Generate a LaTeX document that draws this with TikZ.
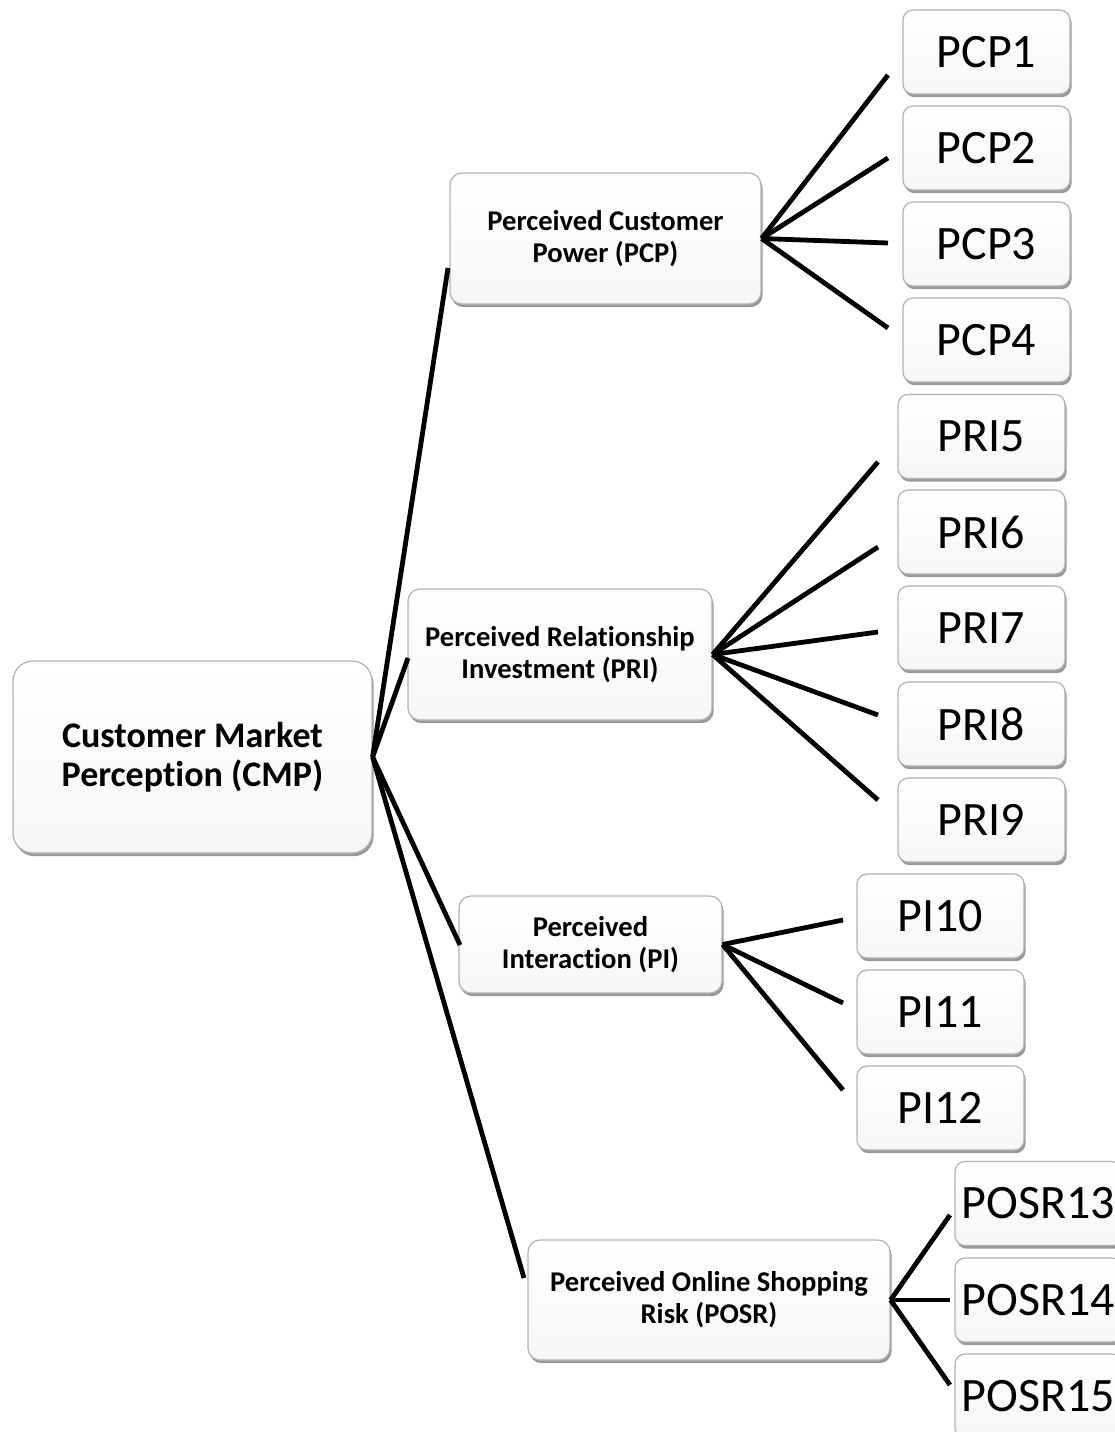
\documentclass[tikz,border=0pt]{standalone}
\usepackage{fontspec}
\setmainfont{Carlito}[Ligatures=NoCommon]
\usetikzlibrary{shadows}
\begin{document}
\begin{tikzpicture}[x=0.5pt,y=-0.5pt,
  box/.style={draw=gray!60, line width=0.6pt, top color=white, bottom color=gray!7,
    drop shadow={shadow xshift=0.8pt, shadow yshift=-1.6pt, fill=gray!80, opacity=1},
    inner sep=0pt, align=center},
  rootbox/.style={box, rounded corners=10pt, minimum width=179.5pt, minimum height=96pt,
    font=\fontsize{18}{19.5}\selectfont\bfseries},
  midbox/.style={box, rounded corners=6pt, font=\fontsize{14.3}{16}\selectfont\bfseries},
  leafbox/.style={box, rounded corners=5pt, minimum width=83.5pt, minimum height=42pt,
    font=\fontsize{24}{28}\selectfont},
  link/.style={line width=2.4pt, black}]
\useasboundingbox (0,0) rectangle (1115,1432);
\clip (0,0) rectangle (1115,1432);

% root and second level
\node[rootbox] (cmp) at (192.5,757) {Customer Market\\Perception (CMP)};
\node[midbox, minimum width=155.5pt, minimum height=65.5pt] (pcp) at (605.5,238.5) {Perceived Customer\\Power (PCP)};
\node[midbox, minimum width=152pt, minimum height=65.5pt] (pri) at (560,654.5) {Perceived Relationship\\Investment (PRI)};
\node[midbox, minimum width=131.5pt, minimum height=48.5pt] (pi) at (590.5,944.5) {Perceived\\Interaction (PI)};
\node[midbox, minimum width=181pt, minimum height=60pt] (posr) at (709,1300) {Perceived Online Shopping\\Risk (POSR)};

% items
\node[leafbox] (pcp1) at (986.5,52) {PCP1};
\node[leafbox] (pcp2) at (986.5,148) {PCP2};
\node[leafbox] (pcp3) at (986.5,244) {PCP3};
\node[leafbox] (pcp4) at (986.5,340) {PCP4};
\node[leafbox] (pri5) at (981.5,436.5) {PRI5};
\node[leafbox] (pri6) at (981.5,532) {PRI6};
\node[leafbox] (pri7) at (981.5,628) {PRI7};
\node[leafbox] (pri8) at (981.5,724) {PRI8};
\node[leafbox] (pri9) at (981.5,820) {PRI9};
\node[leafbox] (pi10) at (940.5,916) {PI10};
\node[leafbox] (pi11) at (940.5,1012) {PI11};
\node[leafbox] (pi12) at (940.5,1108) {PI12};
\node[leafbox] (posr13) at (1038.5,1203.5) {POSR13};
\node[leafbox] (posr14) at (1038.5,1300) {POSR14};
\node[leafbox] (posr15) at (1038.5,1396) {POSR15};

% free ends of the connectors, just short of each box
\coordinate (e-pcp) at (448,268);
\coordinate (e-pri) at (408,658);
\coordinate (e-pi) at (460,945);
\coordinate (e-posr) at (524,1278);
\coordinate (e-pcp1) at (888,75);
\coordinate (e-pcp2) at (888,158);
\coordinate (e-pcp3) at (888,243);
\coordinate (e-pcp4) at (888,328);
\coordinate (e-pri5) at (878,462);
\coordinate (e-pri6) at (878,547);
\coordinate (e-pri7) at (878,632);
\coordinate (e-pri8) at (878,715);
\coordinate (e-pri9) at (878,800);
\coordinate (e-pi10) at (843,920);
\coordinate (e-pi11) at (843,1003);
\coordinate (e-pi12) at (843,1090);
\coordinate (e-posr13) at (950,1215);
\coordinate (e-posr14) at (950,1300);
\coordinate (e-posr15) at (950,1385);

% connectors
\foreach \t in {pcp,pri,pi,posr} \draw[link] (cmp.east) -- (e-\t);
\foreach \t in {1,2,3,4} \draw[link] (pcp.east) -- (e-pcp\t);
\foreach \t in {5,6,7,8,9} \draw[link] (pri.east) -- (e-pri\t);
\foreach \t in {10,11,12} \draw[link] (pi.east) -- (e-pi\t);
\foreach \t in {13,14,15} \draw[link] (posr.east) -- (e-posr\t);
\end{tikzpicture}
\end{document}
